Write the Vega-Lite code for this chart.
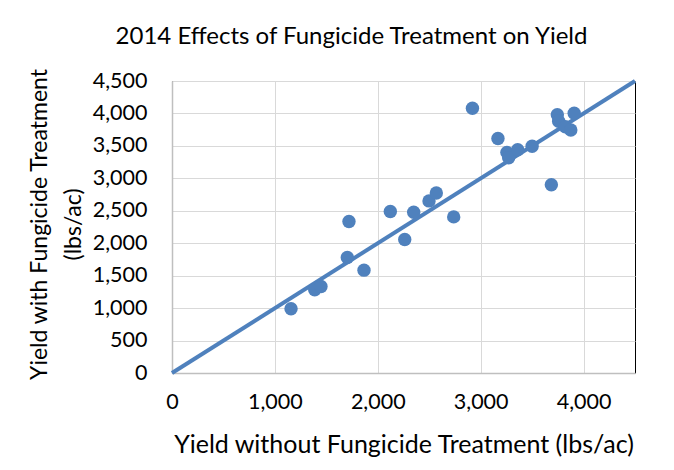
{
  "$schema": "https://vega.github.io/schema/vega-lite/v6.json",
  "autosize": "none",
  "width": 463,
  "height": 292,
  "padding": {"left": 172, "top": 81, "right": 39, "bottom": 97},
  "background": "white",
  "config": {
    "font": "Lato",
    "view": {"stroke": "black", "strokeWidth": 1},
    "axis": {
      "labelFont": "Lato",
      "titleFont": "Lato",
      "labelColor": "black",
      "titleColor": "black",
      "labelFontWeight": "normal",
      "titleFontWeight": "normal",
      "gridColor": "#d9d9d9",
      "gridWidth": 1,
      "domainColor": "#bfbfbf",
      "domainWidth": 1.5,
      "ticks": false
    }
  },
  "title": {
    "text": "2014 Effects of Fungicide Treatment on Yield",
    "font": "Lato",
    "fontSize": 24,
    "fontWeight": "normal",
    "color": "black",
    "anchor": "middle",
    "dx": -52,
    "dy": 0,
    "offset": 19
  },
  "datasets": {
    "points": [
      {"without": 1157, "with": 990},
      {"without": 1387, "with": 1283},
      {"without": 1448, "with": 1334},
      {"without": 1704, "with": 1780},
      {"without": 1720, "with": 2334},
      {"without": 1866, "with": 1585},
      {"without": 2122, "with": 2488},
      {"without": 2262, "with": 2057},
      {"without": 2349, "with": 2478},
      {"without": 2498, "with": 2652},
      {"without": 2569, "with": 2775},
      {"without": 2738, "with": 2406},
      {"without": 2920, "with": 4080},
      {"without": 3168, "with": 3615},
      {"without": 3255, "with": 3400},
      {"without": 3272, "with": 3318},
      {"without": 3360, "with": 3440},
      {"without": 3500, "with": 3495},
      {"without": 3687, "with": 2900},
      {"without": 3745, "with": 3980},
      {"without": 3758, "with": 3880},
      {"without": 3823, "with": 3796},
      {"without": 3876, "with": 3745},
      {"without": 3909, "with": 4004}
    ],
    "line": [
      {"without": 0, "with": 0},
      {"without": 4500, "with": 4500}
    ]
  },
  "encoding": {
    "x": {
      "field": "without",
      "type": "quantitative",
      "scale": {"domain": [0, 4500], "nice": false, "zero": true},
      "axis": {
        "title": "Yield without Fungicide Treatment (lbs/ac)",
        "values": [0, 1000, 2000, 3000, 4000],
        "format": ",d",
        "labelFontSize": 21.5,
        "titleFontSize": 25,
        "labelPadding": 18,
        "titlePadding": 20,
        "labelFlush": false
      }
    },
    "y": {
      "field": "with",
      "type": "quantitative",
      "scale": {"domain": [0, 4500], "nice": false, "zero": true},
      "axis": {
        "title": ["Yield with Fungicide Treatment", "(lbs/ac)"],
        "values": [0, 500, 1000, 1500, 2000, 2500, 3000, 3500, 4000, 4500],
        "format": ",d",
        "labelFontSize": 21.5,
        "titleFontSize": 23,
        "labelPadding": 25,
        "labelFlush": false,
        "titleX": -121,
        "titleY": 143,
        "titleAlign": "center",
        "titleBaseline": "bottom",
        "titleLineHeight": 34
      }
    }
  },
  "layer": [
    {
      "data": {"name": "line"},
      "mark": {"type": "line", "color": "#4f81bd", "strokeWidth": 4}
    },
    {
      "data": {"name": "points"},
      "mark": {"type": "circle", "color": "#4f81bd", "opacity": 1, "size": 180}
    }
  ]
}
